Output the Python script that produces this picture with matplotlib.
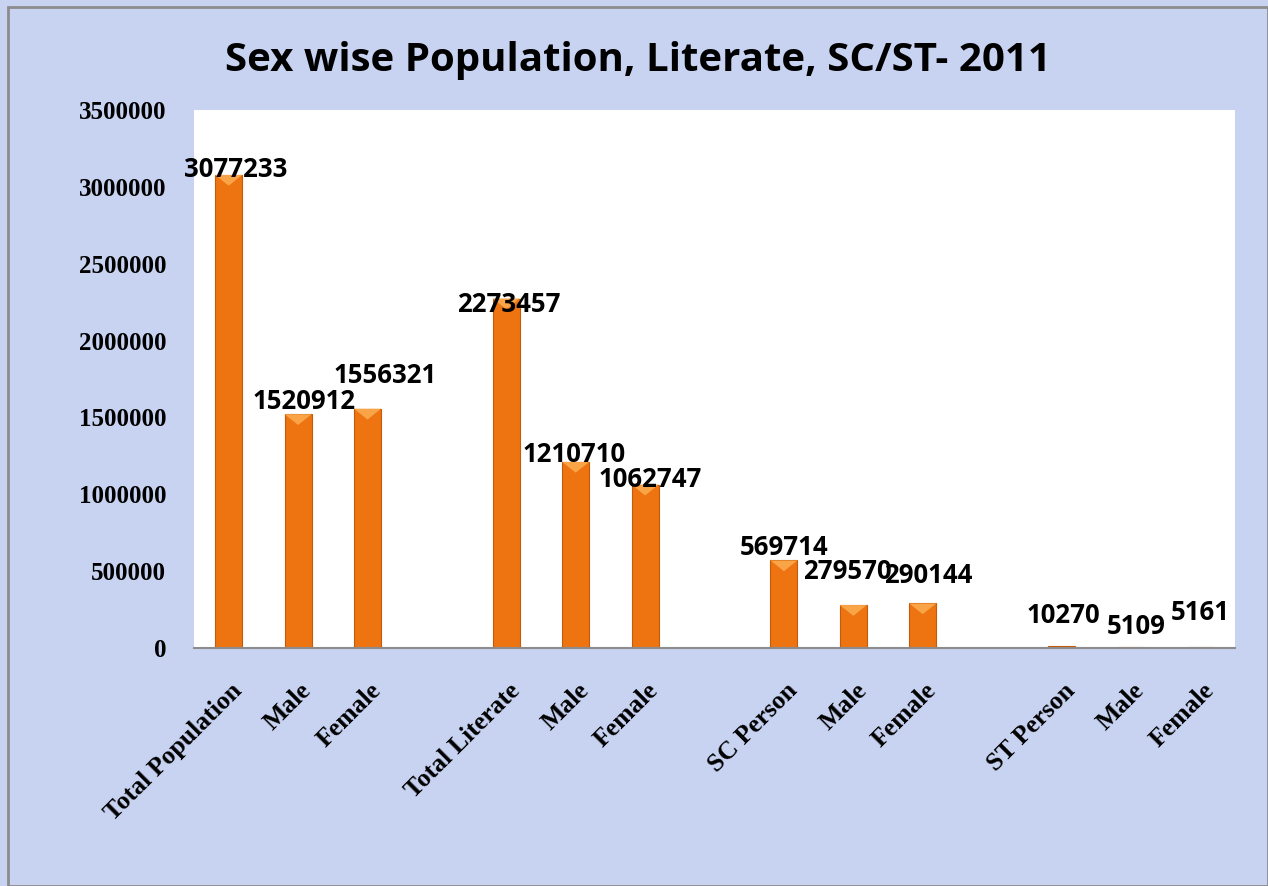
# Sex wise Population, Literate, SC/ST - 2011 bar chart
import matplotlib
matplotlib.use("Agg")
import matplotlib.pyplot as plt
import matplotlib.transforms as mtransforms

# Data (blank entries are the gaps between groups)
categories = ["Total Population", "Male", "Female", "",
              "Total Literate", "Male", "Female", "",
              "SC Person", "Male", "Female", "",
              "ST Person", "Male", "Female"]
values = [3077233, 1520912, 1556321, None,
          2273457, 1210710, 1062747, None,
          569714, 279570, 290144, None,
          10270, 5109, 5161]
# label offsets in points (dx, dy) to mimic where Excel put the labels
label_dx = [5, 4, 13, 0, 2, -1, 4, 0, 0, -4, 4, 0, 1, 4, 0]
label_dy = [4, 9, 24, 0, -4, 5, 4, 0, 9, 24, 20, 0, 22, 15, 25]

bg_color = "#c8d3f2"
bar_color = "#ee7411"
edge_color = "#c55a08"

fig = plt.figure(figsize=(12.68, 8.86), dpi=100)
fig.patch.set_facecolor(bg_color)

# outer gray frame
frame = plt.Rectangle((0.006, 0.0), 0.994, 0.992, transform=fig.transFigure,
                      fill=False, edgecolor="#8c8c8c", linewidth=2)
fig.patches.append(frame)

ax = fig.add_axes([0.1530, 0.2686, 0.8210, 0.6073])
ax.set_facecolor("white")

xs = [i for i, v in enumerate(values) if v is not None]
ys = [v for v in values if v is not None]
bars = ax.bar(xs, ys, width=0.39, color=bar_color, edgecolor=edge_color,
              linewidth=0.8, zorder=2)

# small lighter bevel at the top of each bar
for b in bars:
    h = b.get_height()
    if h < 50000:
        continue
    x0 = b.get_x()
    w = b.get_width()
    d = 70000
    ax.fill([x0, x0 + w, x0 + w / 2], [h, h, h - d], color="#f9a446",
            zorder=3, linewidth=0)

# data labels
for i, v in enumerate(values):
    if v is None:
        continue
    off = mtransforms.offset_copy(ax.transData, fig=fig,
                                  x=label_dx[i], y=label_dy[i], units="points")
    ax.text(i, v, str(v), transform=off, ha="center", va="center",
            fontsize=18.5, fontweight="bold", family="Open Sans",
            color="black", zorder=4)

ax.set_xlim(-0.5, 14.5)
ax.set_ylim(0, 3500000)
ax.set_yticks(range(0, 3500001, 500000))
ax.set_yticklabels([str(t) for t in range(0, 3500001, 500000)],
                   family="Liberation Serif", fontweight="bold", fontsize=18)
ax.tick_params(axis="y", length=0, pad=20)

ax.set_xticks(range(len(categories)))
ax.set_xticklabels(categories, rotation=45, ha="right", va="center",
                   rotation_mode="anchor", family="Liberation Serif",
                   fontweight="bold", fontsize=18.5)
ax.tick_params(axis="x", length=0, pad=28)
shift = mtransforms.ScaledTranslation(7 / 72, 0, fig.dpi_scale_trans)
for lab in ax.get_xticklabels():
    lab.set_transform(lab.get_transform() + shift)

for side in ["top", "right", "left"]:
    ax.spines[side].set_visible(False)
ax.spines["bottom"].set_color("#8c8c8c")
ax.spines["bottom"].set_linewidth(1.5)

fig.text(0.503, 0.932, "Sex wise Population, Literate, SC/ST- 2011",
         ha="center", va="center", fontsize=29, fontweight="bold",
         family="Open Sans", color="black")

fig.savefig("out.png", dpi=100, facecolor=fig.get_facecolor())
